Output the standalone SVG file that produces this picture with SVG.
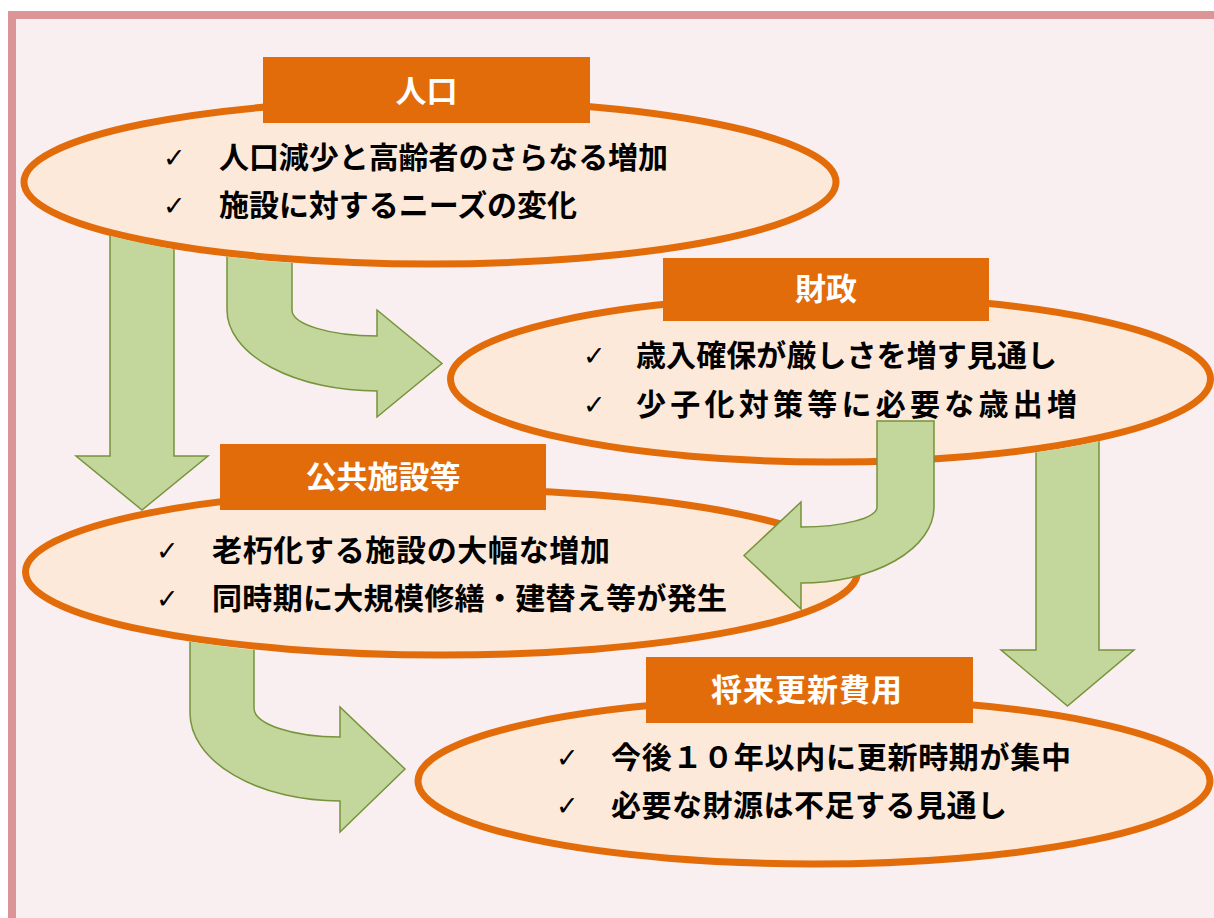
<svg xmlns="http://www.w3.org/2000/svg" width="1214" height="918" viewBox="0 0 1214 918">
<style>
.ell{fill:#fde9d9;stroke:#e36c0a;stroke-width:7}
.lbl{fill:#e36c0a}
.lt{font-family:"Noto Sans CJK JP","Noto Sans",sans-serif;font-weight:700;font-size:31px;fill:#fff;text-anchor:middle}
.bt{font-family:"Noto Sans CJK JP","Noto Sans",sans-serif;font-weight:700;font-size:30px;fill:#000}
.ck{font-family:"DejaVu Sans",sans-serif;font-size:27px;fill:#000}
.arr{fill:#c3d69b;stroke:#77933c;stroke-width:1.5;stroke-linejoin:miter}
</style>
<defs>
<mask id="m1" maskUnits="userSpaceOnUse" x="0" y="0" width="1214" height="918">
<rect x="0" y="0" width="1214" height="918" fill="#fff"/>
<ellipse cx="430" cy="182" rx="410" ry="86" fill="#000"/>
<ellipse cx="441.5" cy="572" rx="420" ry="87" fill="#000"/>
</mask>
<mask id="m2" maskUnits="userSpaceOnUse" x="0" y="0" width="1214" height="918">
<rect x="0" y="0" width="1214" height="918" fill="#fff"/>
<ellipse cx="830.5" cy="379" rx="384" ry="87" fill="#000"/>
<ellipse cx="814" cy="781" rx="400" ry="87" fill="#000"/>
</mask>
<mask id="m3" maskUnits="userSpaceOnUse" x="0" y="0" width="1214" height="918">
<rect x="0" y="0" width="1214" height="918" fill="#fff"/>
<ellipse cx="441.5" cy="572" rx="420" ry="87" fill="#000"/>
</mask>
</defs>
<rect x="12" y="15" width="1220" height="920" fill="#f9eff0" stroke="#dc9596" stroke-width="8"/>

<g id="node-jinko">
<ellipse class="ell" cx="430" cy="182" rx="406" ry="82"/>
<rect class="lbl" x="263" y="57" width="327" height="66"/>
<text class="lt" x="426.5" y="102">人口</text>
<text class="ck" x="163" y="167">✓</text>
<text class="bt" x="219" y="168" textLength="449" lengthAdjust="spacing">人口減少と高齢者のさらなる増加</text>
<text class="ck" x="163" y="215">✓</text>
<text class="bt" x="219" y="216" textLength="358" lengthAdjust="spacing">施設に対するニーズの変化</text>
</g>

<g id="node-zaisei">
<ellipse class="ell" cx="830.5" cy="379" rx="380" ry="83"/>
<rect class="lbl" x="663" y="258" width="326" height="63"/>
<text class="lt" x="826" y="300">財政</text>
<text class="ck" x="583" y="365">✓</text>
<text class="bt" x="636" y="366" textLength="421" lengthAdjust="spacing">歳入確保が厳しさを増す見通し</text>
<text class="ck" x="583" y="414">✓</text>
<text class="bt" x="636" y="415" textLength="441" lengthAdjust="spacing">少子化対策等に必要な歳出増</text>
</g>

<g id="node-shisetsu">
<ellipse class="ell" cx="441.5" cy="572" rx="416" ry="83"/>
<rect class="lbl" x="220" y="444" width="326" height="66"/>
<text class="lt" x="383" y="488">公共施設等</text>
<text class="ck" x="156" y="560">✓</text>
<text class="bt" x="212" y="561" textLength="398" lengthAdjust="spacing">老朽化する施設の大幅な増加</text>
<text class="ck" x="156" y="608">✓</text>
<text class="bt" x="212" y="609" textLength="515" lengthAdjust="spacing">同時期に大規模修繕・建替え等が発生</text>
</g>

<g id="node-shorai">
<ellipse class="ell" cx="814" cy="781" rx="396" ry="83"/>
<rect class="lbl" x="646" y="657" width="327" height="66"/>
<text class="lt" x="807" y="701" letter-spacing="1">将来更新費用</text>
<text class="ck" x="556" y="767">✓</text>
<text class="bt" x="611" y="768" textLength="460" lengthAdjust="spacing">今後１０年以内に更新時期が集中</text>
<text class="ck" x="556" y="815">✓</text>
<text class="bt" x="611" y="816" textLength="396" lengthAdjust="spacing">必要な財源は不足する見通し</text>
</g>

<g id="connectors">
<path class="arr" mask="url(#m1)" d="M110,225 L174,225 L174,456 L208,456 L142,510 L76,456 L110,456 Z"/>
<path class="arr" mask="url(#m1)" d="M227,225 L292,225 L292,310 A85,26 0 0 0 377,336 L377,310 L442,363.5 L377,417 L377,391 A150,81 0 0 1 227,310 Z"/>
<path class="arr" d="M877,421 L934,421 L934,507 A133,76 0 0 1 801,583 L801,609 L744,555.5 L801,502 L801,527 A76,20 0 0 0 877,507 Z"/>
<path class="arr" mask="url(#m2)" d="M1036,420 L1099,420 L1099,650 L1134,650 L1067.5,706 L1001,650 L1036,650 Z"/>
<path class="arr" mask="url(#m3)" d="M190,630 L254,630 L254,708 A86,29 0 0 0 340,737 L340,707 L405,769 L340,832 L340,801 A150,88 0 0 1 190,713 Z"/>
</g>
</svg>
